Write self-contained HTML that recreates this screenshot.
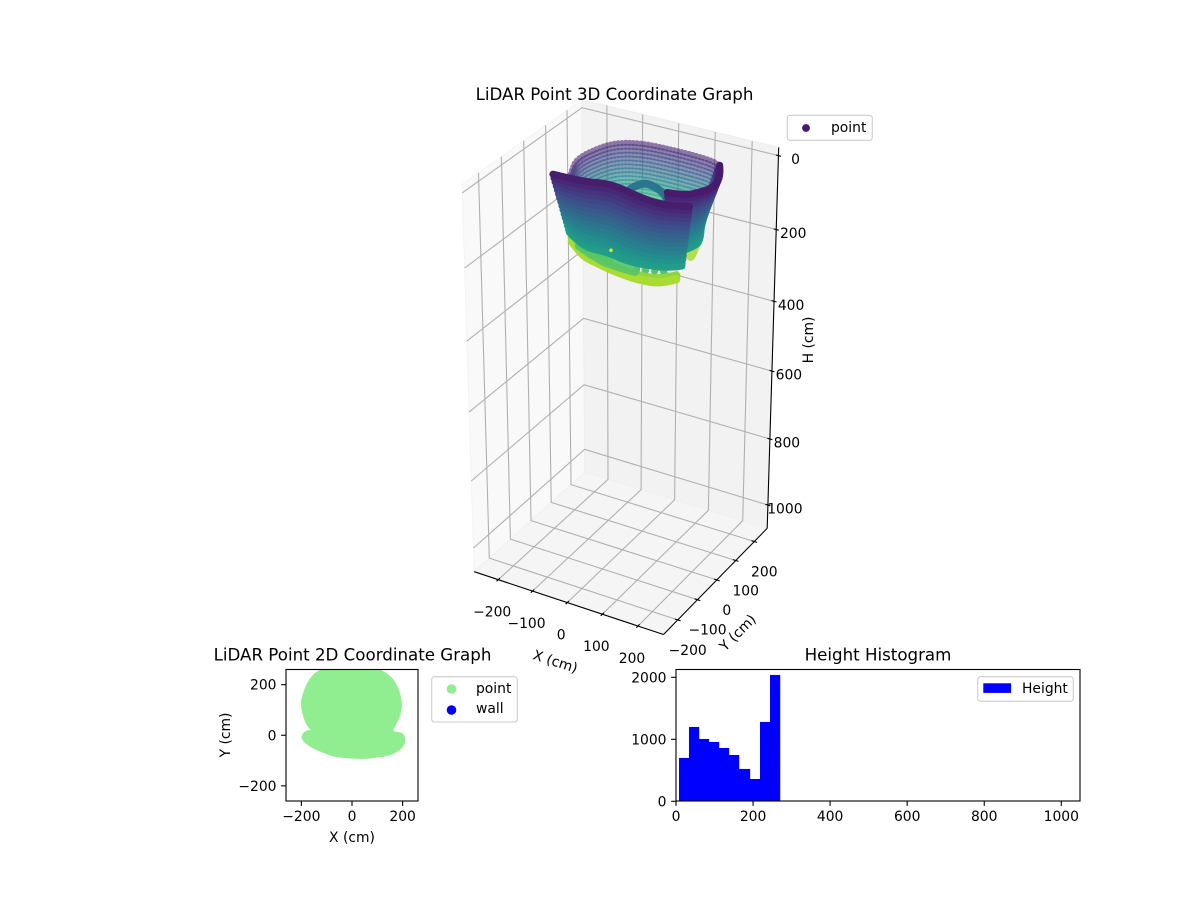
<!DOCTYPE html>
<html lang="en">
<head>
<meta charset="utf-8">
<title>LiDAR Point Graphs</title>
<style>
  html, body { margin: 0; padding: 0; background: #fff; }
  svg { display: block; }
  text { font-family: "DejaVu Sans", "Liberation Sans", sans-serif; font-size: 13.89px; fill: #000; }
  .title { font-size: 16.67px; }
</style>
</head>
<body>
<svg id="figure" xmlns="http://www.w3.org/2000/svg" width="1200" height="900" viewBox="0 0 1200 900">
  <rect x="0" y="0" width="1200" height="900" fill="#fff"/>
  <defs>
    <clipPath id="clip2d"><rect x="286" y="669.5" width="132" height="131.5"/></clipPath>
  </defs>

  <g id="axes3d"></g>
  <g id="cloud3d"></g>
  <text class="title" x="614.5" y="100" text-anchor="middle">LiDAR Point 3D Coordinate Graph</text>
  <text text-anchor="middle" transform="translate(554,666) rotate(18)">X (cm)</text>
  <text text-anchor="middle" transform="translate(741,636) rotate(-45)">Y (cm)</text>
  <text text-anchor="middle" transform="translate(813,340) rotate(-90)">H (cm)</text>
  <g>
    <rect x="787.3" y="115.3" width="85" height="25" rx="2.8" fill="#fff" fill-opacity="0.8" stroke="#ccc" stroke-width="1.1"/>
    <circle cx="806" cy="128" r="3.9" fill="#481a6c"/>
    <text x="831" y="132">point</text>
  </g>

  <g id="axes2d"></g>
  <text class="title" x="352.5" y="660.5" text-anchor="middle">LiDAR Point 2D Coordinate Graph</text>
  <text x="352" y="842" text-anchor="middle">X (cm)</text>
  <text text-anchor="middle" transform="translate(230,735) rotate(-90)">Y (cm)</text>
  <g>
    <rect x="431.7" y="676.7" width="85.6" height="45.3" rx="2.8" fill="#fff" fill-opacity="0.8" stroke="#ccc" stroke-width="1.1"/>
    <circle cx="451.5" cy="689" r="4.8" fill="#90ee90"/>
    <text x="476" y="693">point</text>
    <circle cx="451.5" cy="710" r="4.8" fill="#0000ff"/>
    <text x="476" y="713">wall</text>
  </g>

  <g id="axesHist"></g>
  <text class="title" x="878" y="660.5" text-anchor="middle">Height Histogram</text>
  <g>
    <rect x="977.7" y="676.7" width="95.6" height="24.6" rx="2.8" fill="#fff" fill-opacity="0.8" stroke="#ccc" stroke-width="1.1"/>
    <rect x="983.3" y="683.3" width="27.8" height="9.6" fill="#0000ff"/>
    <text x="1022" y="693">Height</text>
  </g>
</svg>

<script>
// ---------- chart values ----------
const tick3dX = [-200, -100, 0, 100, 200];
const tick3dY = [-200, -100, 0, 100, 200];
const tick3dZ = [0, 200, 400, 600, 800, 1000];

// Wall outlines of the scan (cm): rim = top of the wall, base = bottom of the wall
const backRimX  = [-160, -172, -187, -186, -160, -100, 0, 100, 130, 155, 172];
const backRimY  = [30, 60, 100, 150, 231, 265, 270, 265, 242, 190, 130];
const backBaseX = [-145, -155, -168, -168, -145, -90, 0, 90, 100, 105, 105];
const backBaseY = [40, 70, 105, 150, 215, 245, 250, 245, 225, 180, 130];
const backHeights = [53, 63, 73, 83, 93, 103, 113, 123, 133, 143, 153, 163, 173, 183, 193];

const archX = [-65, -66, -62, -51, -19, 10, 31];
const archY = [139, 155, 172, 199, 191, 175, 154];
const archHeights = [120, 124];

const rightRimX  = [93, 135, 160, 175, 160, 130];
const rightRimY  = [49, 55, 90, 130, 190, 240];
const rightBaseX = [150, 181, 165, 140, 120, 100];
const rightBaseY = [-20, 34, 85, 130, 180, 215];
const rightHeights = [47, 55, 63, 71, 79, 87, 95, 103, 111, 119, 127, 135, 143, 151, 159, 164];

const frontRimX  = [-192, -109, -72, -27, 39, 116, 172];
const frontRimY  = [2, 3, 20, 22, 1, -12, 15];
const frontBaseX = [-119, -56, -10, 20, 83, 173, 196];
const frontBaseY = [-46, -92, -92, -92, -108, -91, -63];
const frontHeights = [49, 57, 65, 73, 81, 89, 97, 105, 113, 121, 129, 137, 145, 153, 161, 166];

const footX = [-161, -128, -93, -50, -9, 25, 57, 87, 116, 138, 151];
const footY = [36, 8, -18, -31, -42, -48, -53, -52, -47, -30, -8];
const footHeights = [229, 239];
const footLeftX = [-150, -120, -90, -55, -20];
const footLeftY = [30, 8, -12, -22, -30];
const footLeftHeights = [209, 219];
const skirtX = [-100, -30, 30, 77];
const skirtY = [-30, -65, -75, -75];
const skirtHeights = [205];
const footRearX = [90, 110, 123];
const footRearY = [211, 160, 113];
const footRearHeights = [239];
const beadX = [77, 115, 157];
const beadY = [-66, -62, -37];
const beadHeights = [204];
const sparkX = [-78];
const sparkY = [80];
const sparkZ = [262];

// 2D outline of the point footprint (cm)
const footprintX = [-116, -155, -181, -200, -203, -192, -175, -158, -181, -201, -197, -168, -116, -63, 42, 108, 160, 205, 213, 200, 158, 174, 193, 199, 187, 160, 114, 95, 0];
const footprintY = [265, 242, 202, 148, 115, 68, 32, 19, 20, 1, -21, -45, -70, -88, -95, -88, -78, -47, -12, 12, 14, 41, 82, 122, 182, 229, 260, 265, 280];
const tick2dX = [-200, 0, 200];
const tick2dY = [-200, 0, 200];

// Histogram
const heightBinEdges = [7.8, 33.7, 59.7, 85.6, 111.6, 137.5, 163.5, 192, 218, 244, 270];
const heightCounts = [699, 1199, 1005, 957, 860, 747, 522, 360, 1280, 2038];
const histTickX = [0, 200, 400, 600, 800, 1000];
const histTickY = [0, 1000, 2000];

// ---------- helpers ----------
const NS = 'http://www.w3.org/2000/svg';
function svgEl(parent, tag, attrs, txt) {
  const el = document.createElementNS(NS, tag);
  for (const k in attrs) el.setAttribute(k, attrs[k]);
  if (txt !== undefined) el.textContent = txt;
  parent.appendChild(el);
  return el;
}
function fmt(v) { return v < 0 ? '\u2212' + Math.abs(v) : String(v); }
function smoothOpen(p) {
  if (p.length < 3) return 'M' + p.map(q => q[0].toFixed(1) + ' ' + q[1].toFixed(1)).join('L');
  let d = 'M' + p[0][0].toFixed(1) + ' ' + p[0][1].toFixed(1);
  for (let i = 1; i < p.length - 1; i++) {
    const mx = (p[i][0] + p[i + 1][0]) / 2, my = (p[i][1] + p[i + 1][1]) / 2;
    const end = i === p.length - 2 ? p[i + 1] : [mx, my];
    d += 'Q' + p[i][0].toFixed(1) + ' ' + p[i][1].toFixed(1) + ' ' + end[0].toFixed(1) + ' ' + end[1].toFixed(1);
  }
  return d;
}
function smoothClosed(p) {
  const n = p.length;
  const mid = (a, b) => [(a[0] + b[0]) / 2, (a[1] + b[1]) / 2];
  const s = mid(p[n - 1], p[0]);
  let d = 'M' + s[0].toFixed(1) + ' ' + s[1].toFixed(1);
  for (let i = 0; i < n; i++) {
    const m = mid(p[i], p[(i + 1) % n]);
    d += 'Q' + p[i][0].toFixed(1) + ' ' + p[i][1].toFixed(1) + ' ' + m[0].toFixed(1) + ' ' + m[1].toFixed(1);
  }
  return d + 'Z';
}

const viridisStops = ['#440154','#482475','#414487','#355f8d','#2a788e','#21918c','#22a884','#44bf70','#7ad151','#bddf26','#fde725'];
function viridis(t) {
  t = Math.max(0, Math.min(1, t)) * 10;
  const i = Math.min(9, Math.floor(t)), f = t - i;
  const p = s => [1, 3, 5].map(j => parseInt(s.substr(j, 2), 16));
  const a = p(viridisStops[i]), b = p(viridisStops[i + 1]);
  return 'rgb(' + a.map((c, j) => Math.round(c + (b[j] - c) * f)).join(',') + ')';
}
function heightColor(z) { return viridis((z - 30) / 240); }

// ---------- 3D axis functions (perspective view: elev 30, azim -60) ----------
const xLo = -270.83, xHi = 270.83, yLo = -270.83, yHi = 270.83, zTop = -21.875, zBot = 1071.875;
function project(x, y, z) {
  const qx = x / xHi * 0.389, qy = y / yHi * 0.389;
  const qz = 0.778 - 1.556 * (z - zTop) / (zBot - zTop);
  const xc = 0.866 * qx + 0.5 * qy;
  const yc = -0.25 * qx + 0.433 * qy + 0.866 * qz;
  const d = 10 - (0.433 * qx - 0.75 * qy + 0.5 * qz);
  return [622.4 + 2864 * xc / d, 365.2 - 2846 * yc / d];
}
function pts3d(list) {
  return list.map(p => { const s = project(p[0], p[1], p[2]); return s[0].toFixed(1) + ',' + s[1].toFixed(1); }).join(' ');
}

// ---------- 3D axes ----------
const ax3 = document.getElementById('axes3d');
const leftPane = svgEl(ax3, 'polygon', {points: pts3d([[xLo,yLo,zBot],[xLo,yHi,zBot],[xLo,yHi,zTop],[xLo,yLo,zTop]]), fill: '#f9f9f9', stroke: '#f4f4f4'});


const backPane = svgEl(ax3, 'polygon', {points: pts3d([[xLo,yHi,zBot],[xHi,yHi,zBot],[xHi,yHi,zTop],[xLo,yHi,zTop]]), fill: '#f2f2f2', stroke: '#eeeeee'});


const floorPane = svgEl(ax3, 'polygon', {points: pts3d([[xLo,yLo,zBot],[xHi,yLo,zBot],[xHi,yHi,zBot],[xLo,yHi,zBot]]), fill: '#f5f5f5', stroke: '#f0f0f0'});



const gridStyle = {fill: 'none', stroke: '#b0b0b0', 'stroke-width': 1.1};
tick3dX.forEach(v => {
  const g = svgEl(ax3, 'polyline', Object.assign({points: pts3d([[v,yLo,zBot],[v,yHi,zBot],[v,yHi,zTop]])}, gridStyle));
  
  
  const t = svgEl(ax3, 'polyline', {points: pts3d([[v,yLo+8,zBot],[v,yLo-8,zBot]]), stroke: '#000', 'stroke-width': 1.1, fill: 'none'});
  
  
  const s = project(v, yLo, zBot);
  const l = svgEl(ax3, 'text', {x: (s[0] - 6).toFixed(1), y: (s[1] + 37).toFixed(1), 'text-anchor': 'middle'}, fmt(v));
  
  
});
tick3dY.forEach(v => {
  const g = svgEl(ax3, 'polyline', Object.assign({points: pts3d([[xHi,v,zBot],[xLo,v,zBot],[xLo,v,zTop]])}, gridStyle));
  
  
  const t = svgEl(ax3, 'polyline', {points: pts3d([[xHi-8,v,zBot],[xHi+8,v,zBot]]), stroke: '#000', 'stroke-width': 1.1, fill: 'none'});
  
  
  const s = project(xHi, v, zBot);
  const l = svgEl(ax3, 'text', {x: (s[0] + 10).toFixed(1), y: (s[1] + 35).toFixed(1), 'text-anchor': 'middle'}, fmt(v));
  
  
});
tick3dZ.forEach(v => {
  const g = svgEl(ax3, 'polyline', Object.assign({points: pts3d([[xLo,yLo,v],[xLo,yHi,v],[xHi,yHi,v]])}, gridStyle));
  
  
  const t = svgEl(ax3, 'polyline', {points: pts3d([[xHi-7,yHi,v],[xHi+7,yHi,v]]), stroke: '#000', 'stroke-width': 1.1, fill: 'none'});
  
  
  const s = project(xHi, yHi, v);
  const l = svgEl(ax3, 'text', {x: (s[0] + 17).toFixed(1), y: (s[1] + 8.5).toFixed(1), 'text-anchor': 'middle'}, fmt(v));
  
  
});
const axisX3 = svgEl(ax3, 'polyline', {points: pts3d([[xLo,yLo,zBot],[xHi,yLo,zBot]]), stroke: '#000', 'stroke-width': 1.1, fill: 'none'});


const axisY3 = svgEl(ax3, 'polyline', {points: pts3d([[xHi,yLo,zBot],[xHi,yHi,zBot]]), stroke: '#000', 'stroke-width': 1.1, fill: 'none'});


const axisZ3 = svgEl(ax3, 'polyline', {points: pts3d([[xHi,yHi,zBot],[xHi,yHi,zTop]]), stroke: '#000', 'stroke-width': 1.1, fill: 'none'});



// ---------- 3D point cloud: one scan ring per height, drawn through the axis function ----------
const cloud = document.getElementById('cloud3d');
function scanRing(rimX, rimY, baseX, baseY, heights, index, style) {
  const z = heights[index];
  const zA = heights[0], zB = heights[heights.length - 1];
  const f = zB === zA ? 0 : (z - zA) / (zB - zA);
  const list = rimX.map((x, i) => project(x + (baseX[i] - x) * f, rimY[i] + (baseY[i] - rimY[i]) * f, z));
  return svgEl(cloud, 'path', Object.assign({
    d: smoothOpen(list), fill: 'none', stroke: heightColor(z),
    'stroke-linecap': 'round', 'stroke-linejoin': 'round'
  }, style));
}

backHeights.forEach((z, i) => {
  const r = scanRing(backRimX, backRimY, backBaseX, backBaseY, backHeights, i, {'stroke-width': 6, pathLength: 50, 'stroke-dasharray': '0 1', 'stroke-opacity': 0.6});
  
  
});
archHeights.forEach((z, i) => {
  const r = scanRing(archX, archY, archX, archY, archHeights, i, {'stroke-width': 6.5});
  
  
});
footRearHeights.forEach((z, i) => {
  const r = scanRing(footRearX, footRearY, footRearX, footRearY, footRearHeights, i, {'stroke-width': 10, 'stroke-opacity': 0.85});
  
  
});
beadHeights.forEach((z, i) => {
  const r = scanRing(beadX, beadY, beadX, beadY, beadHeights, i, {'stroke-width': 7, 'stroke-dasharray': '0 9'});
  
  
});
footHeights.forEach((z, i) => {
  const r = scanRing(footX, footY, footX, footY, footHeights, i, {'stroke-width': 8.5});
  
  
});
footLeftHeights.forEach((z, i) => {
  const r = scanRing(footLeftX, footLeftY, footLeftX, footLeftY, footLeftHeights, i, {'stroke-width': 10, 'stroke-opacity': 0.85});
  
  
});
skirtHeights.forEach((z, i) => {
  const r = scanRing(skirtX, skirtY, skirtX, skirtY, skirtHeights, i, {'stroke-width': 10, 'stroke-opacity': 0.9});
  
  
});
rightHeights.slice().reverse().forEach((z) => {
  const r = scanRing(rightRimX, rightRimY, rightBaseX, rightBaseY, rightHeights, rightHeights.indexOf(z), {'stroke-width': 7});
  
  
});
frontHeights.slice().reverse().forEach((z) => {
  const r = scanRing(frontRimX, frontRimY, frontBaseX, frontBaseY, frontHeights, frontHeights.indexOf(z), {'stroke-width': 7});
  
  
});
sparkX.forEach((x, i) => {
  const s = project(x, sparkY[i], sparkZ[i]);
  const c = svgEl(cloud, 'circle', {cx: s[0].toFixed(1), cy: s[1].toFixed(1), r: 1.8, fill: heightColor(sparkZ[i])});
  
  
});

// ---------- 2D coordinate graph ----------
function x2d(v) { return 352 + v * 0.2532; }
function y2d(v) { return 735.25 - v * 0.2529; }
const ax2 = document.getElementById('axes2d');
const footprint = svgEl(ax2, 'path', {
  d: smoothClosed(footprintX.map((x, i) => [x2d(x), y2d(footprintY[i])])),
  fill: '#90ee90', 'clip-path': 'url(#clip2d)'
});


const frame2 = svgEl(ax2, 'rect', {x: 286, y: 669.5, width: 132, height: 131.5, fill: 'none', stroke: '#000', 'stroke-width': 1.1});


tick2dX.forEach(v => {
  const t = svgEl(ax2, 'line', {x1: x2d(v), x2: x2d(v), y1: 801, y2: 805.9, stroke: '#000', 'stroke-width': 1.1});
  
  
  const l = svgEl(ax2, 'text', {x: x2d(v), y: 821, 'text-anchor': 'middle'}, fmt(v));
  
  
});
tick2dY.forEach(v => {
  const t = svgEl(ax2, 'line', {x1: 281.1, x2: 286, y1: y2d(v), y2: y2d(v), stroke: '#000', 'stroke-width': 1.1});
  
  
  const l = svgEl(ax2, 'text', {x: 276.5, y: y2d(v) + 5, 'text-anchor': 'end'}, fmt(v));
  
  
});

// ---------- Height histogram ----------
function xHist(v) { return 676 + v * 0.3853; }
function yHist(v) { return 801.3 - v * 0.062; }
const axH = document.getElementById('axesHist');
heightCounts.forEach((c, i) => {
  const x0 = xHist(heightBinEdges[i]), x1 = xHist(heightBinEdges[i + 1]);
  const b = svgEl(axH, 'rect', {x: x0.toFixed(2), y: yHist(c).toFixed(2), width: (x1 - x0 + 0.2).toFixed(2), height: (yHist(0) - yHist(c)).toFixed(2), fill: '#0000ff'});
  
  
});
const frameH = svgEl(axH, 'rect', {x: 676, y: 669.5, width: 404, height: 131.5, fill: 'none', stroke: '#000', 'stroke-width': 1.1});


histTickX.forEach(v => {
  const t = svgEl(axH, 'line', {x1: xHist(v), x2: xHist(v), y1: 801, y2: 805.9, stroke: '#000', 'stroke-width': 1.1});
  
  
  const l = svgEl(axH, 'text', {x: xHist(v), y: 821, 'text-anchor': 'middle'}, fmt(v));
  
  
});
histTickY.forEach(v => {
  const t = svgEl(axH, 'line', {x1: 671.1, x2: 676, y1: yHist(v), y2: yHist(v), stroke: '#000', 'stroke-width': 1.1});
  
  
  const l = svgEl(axH, 'text', {x: 666.5, y: yHist(v) + 5, 'text-anchor': 'end'}, fmt(v));
  
  
});
</script>
</body>
</html>
